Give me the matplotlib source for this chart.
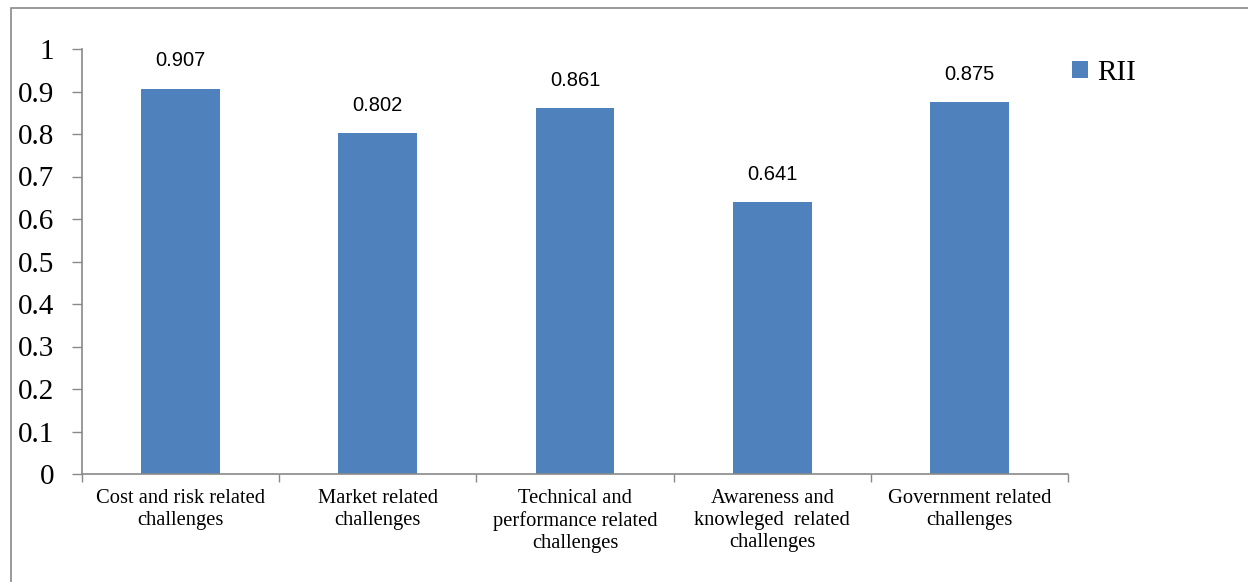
import numpy as np
import matplotlib
matplotlib.use("Agg")
import matplotlib.pyplot as plt
from matplotlib.patches import Rectangle

categories = [
    "Cost and risk related\nchallenges",
    "Market related\nchallenges",
    "Technical and\nperformance related\nchallenges",
    "Awareness and\nknowleged  related\nchallenges",
    "Government related\nchallenges",
]
rii = [0.907, 0.802, 0.861, 0.641, 0.875]
value_labels = ["0.907", "0.802", "0.861", "0.641", "0.875"]
yticks = [0, 0.1, 0.2, 0.3, 0.4, 0.5, 0.6, 0.7, 0.8, 0.9, 1]
ytick_labels = ["0", "0.1", "0.2", "0.3", "0.4", "0.5", "0.6", "0.7", "0.8", "0.9", "1"]

bar_color = "#4F81BD"
axis_color = "#898989"
serif = ["Liberation Serif", "DejaVu Serif"]
sans = ["Liberation Sans", "DejaVu Sans"]

W, H = 1248, 582
fig = plt.figure(figsize=(W / 100, H / 100), dpi=100)
ax = fig.add_axes([82 / W, 1 - 474 / H, (1068 - 82) / W, (474 - 49) / H])

x = np.arange(len(categories))
bars = ax.bar(x, rii, width=0.4, color=bar_color, label="RII", zorder=2)

for b, lab in zip(bars, value_labels):
    ax.annotate(lab, (b.get_x() + b.get_width() / 2, b.get_height()),
                xytext=(0, 13), textcoords="offset points",
                ha="center", va="bottom", fontsize=14.5, family=sans)

ax.set_xlim(-0.5, len(categories) - 0.5)
ax.set_ylim(0, 1)

ax.set_yticks(yticks)
ax.set_yticklabels(ytick_labels, family=serif, fontsize=21)
ax.tick_params(axis="y", direction="out", length=7, width=1, color=axis_color, pad=13)

ax.set_xticks(x)
ax.set_xticklabels(categories, family=serif, fontsize=14.8, linespacing=1.2)
ax.set_xticks(np.arange(len(categories) + 1) - 0.5, minor=True)
ax.tick_params(axis="x", which="major", length=0, pad=11)
ax.tick_params(axis="x", which="minor", direction="out", length=6, width=1, color=axis_color)

for side in ["top", "right"]:
    ax.spines[side].set_visible(False)
for side in ["left", "bottom"]:
    ax.spines[side].set_color(axis_color)
    ax.spines[side].set_linewidth(1.2)

leg = ax.legend(loc="upper left", bbox_to_anchor=(1072 / W, 1 - 60 / H),
                bbox_transform=fig.transFigure, frameon=False,
                prop={"family": serif, "size": 21}, handlelength=0.55,
                handleheight=0.55, handletextpad=0.3, borderaxespad=0,
                borderpad=0)

# outer chart border (only left and top edges visible in the frame)
fig.add_artist(Rectangle((11 / W, -0.05), 1.2, 1 - 8 / H + 0.05,
                         transform=fig.transFigure, fill=False,
                         edgecolor=axis_color, linewidth=1.2))

fig.savefig("out.png", dpi=100)
